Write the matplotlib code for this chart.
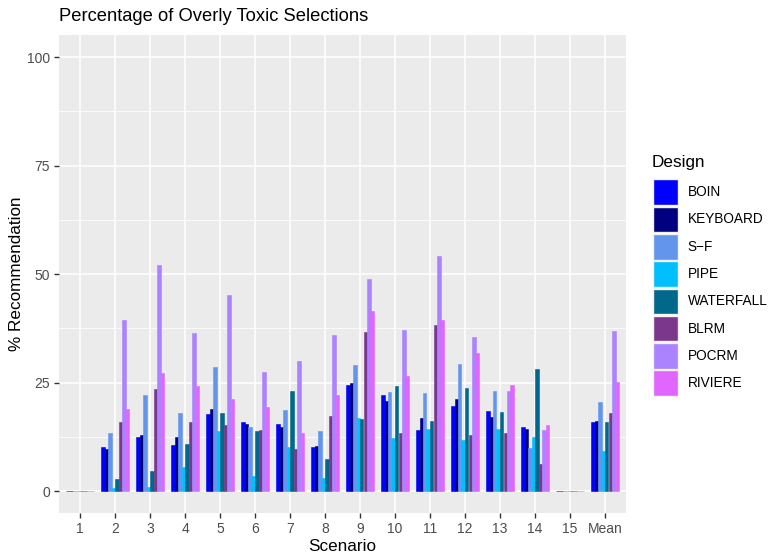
import numpy as np
import matplotlib
matplotlib.use("Agg")
import matplotlib.pyplot as plt
from matplotlib.patches import Rectangle

plt.rcParams['font.family'] = ['Liberation Sans', 'DejaVu Sans']

scenarios = ["1", "2", "3", "4", "5", "6", "7", "8", "9", "10",
             "11", "12", "13", "14", "15", "Mean"]
designs = ["BOIN", "KEYBOARD", "S\u2212F", "PIPE", "WATERFALL", "BLRM", "POCRM", "RIVIERE"]
colors = ["#0000FF", "#000080", "#6495ED", "#00BFFF", "#00688B", "#7A378B", "#AB82FF", "#E066FF"]

# % of overly toxic selections, one list per design (scenarios 1..15, Mean)
boin      = [0, 10.1, 12.4, 10.6, 17.7, 15.9, 15.4, 10.1, 24.4, 22.1, 14.1, 19.6, 18.4, 14.7, 0, 15.9]
keyboard  = [0,  9.7, 12.9, 12.4, 18.9, 15.4, 14.7, 10.4, 24.9, 20.7, 16.8, 21.2, 17.1, 14.3, 0, 16.1]
sf        = [0, 13.4, 22.1, 18.0, 28.6, 14.7, 18.7, 13.8, 29.0, 22.8, 22.6, 29.3, 23.0,  9.9, 0, 20.5]
pipe      = [0,  0.7,  0.9,  5.5, 13.8,  3.5, 10.1,  3.0, 16.8, 12.2, 14.3, 11.8, 14.3, 12.4, 0,  9.2]
waterfall = [0,  2.8,  4.6, 10.8, 18.0, 13.8, 23.0,  7.4, 16.6, 24.2, 16.1, 23.7, 18.2, 28.1, 0, 15.9]
blrm      = [0, 15.9, 23.5, 15.9, 15.2, 14.1,  9.7, 17.3, 36.6, 13.4, 38.2, 12.9, 13.4,  6.2, 0, 18.0]
pocrm     = [0, 39.4, 52.1, 36.4, 45.2, 27.4, 30.0, 35.9, 48.8, 37.1, 54.1, 35.5, 23.0, 14.1, 0, 36.9]
riviere   = [0, 18.9, 27.2, 24.2, 21.2, 19.4, 13.4, 22.1, 41.5, 26.5, 39.4, 31.8, 24.4, 15.2, 0, 25.1]
values = [boin, keyboard, sf, pipe, waterfall, blrm, pocrm, riviere]

W, H = 772, 558
fig = plt.figure(figsize=(W / 100, H / 100), dpi=100)
ax = fig.add_axes([59 / W, (H - 512.7) / H, (626 - 59) / W, (512.7 - 35.3) / H])
ax.set_facecolor("#EBEBEB")

x = np.arange(len(scenarios))
n = len(designs)
bw = 0.8 / n
for i, (name, vals, c) in enumerate(zip(designs, values, colors)):
    ax.bar(x - 0.4 + bw * (i + 0.5), vals, width=bw, color=c,
           edgecolor=c, linewidth=0.4, zorder=3, label=name)

ax.set_xlim(-0.6, len(scenarios) - 0.4)
ax.set_ylim(-5, 105)
ax.set_xticks(x)
ax.set_xticklabels(scenarios)
ax.set_yticks([0, 25, 50, 75, 100])
ax.set_yticks([12.5, 37.5, 62.5, 87.5], minor=True)
ax.grid(which="major", color="white", linewidth=1.1, zorder=0)
ax.grid(which="minor", axis="y", color="white", linewidth=0.55, zorder=0)
ax.tick_params(which="major", length=3.5, width=1.0, color="#333333",
               labelcolor="#4D4D4D", labelsize=10, pad=3)
ax.tick_params(which="minor", length=0)
for s in ax.spines.values():
    s.set_visible(False)

ax.set_xlabel("Scenario", fontsize=12.3, labelpad=2)
ax.set_ylabel("% Recommendation", fontsize=12.3, labelpad=2)
ax.set_title("Percentage of Overly Toxic Selections", fontsize=13.2,
             loc="left", x=0.0, pad=10)

# legend drawn by hand in pixel positions, ggplot style
def fx(px):
    return px / W

def fy(py):
    return 1 - py / H

fig.text(fx(652), fy(162), "Design", fontsize=12.3, va="center", ha="left")
key_top, key_h, pitch = 179.3, 25.6, 27.3
for k, (name, c) in enumerate(zip(designs, colors)):
    top = key_top + k * pitch
    fig.add_artist(Rectangle((fx(652.7), fy(top + key_h)), 25.6 / W, key_h / H,
                             transform=fig.transFigure, facecolor=c,
                             edgecolor="#F2F2F2", linewidth=1.0))
    fig.text(fx(687.5), fy(top + key_h / 2), name, fontsize=9.8,
             va="center", ha="left")

fig.savefig("out.png", dpi=100)
